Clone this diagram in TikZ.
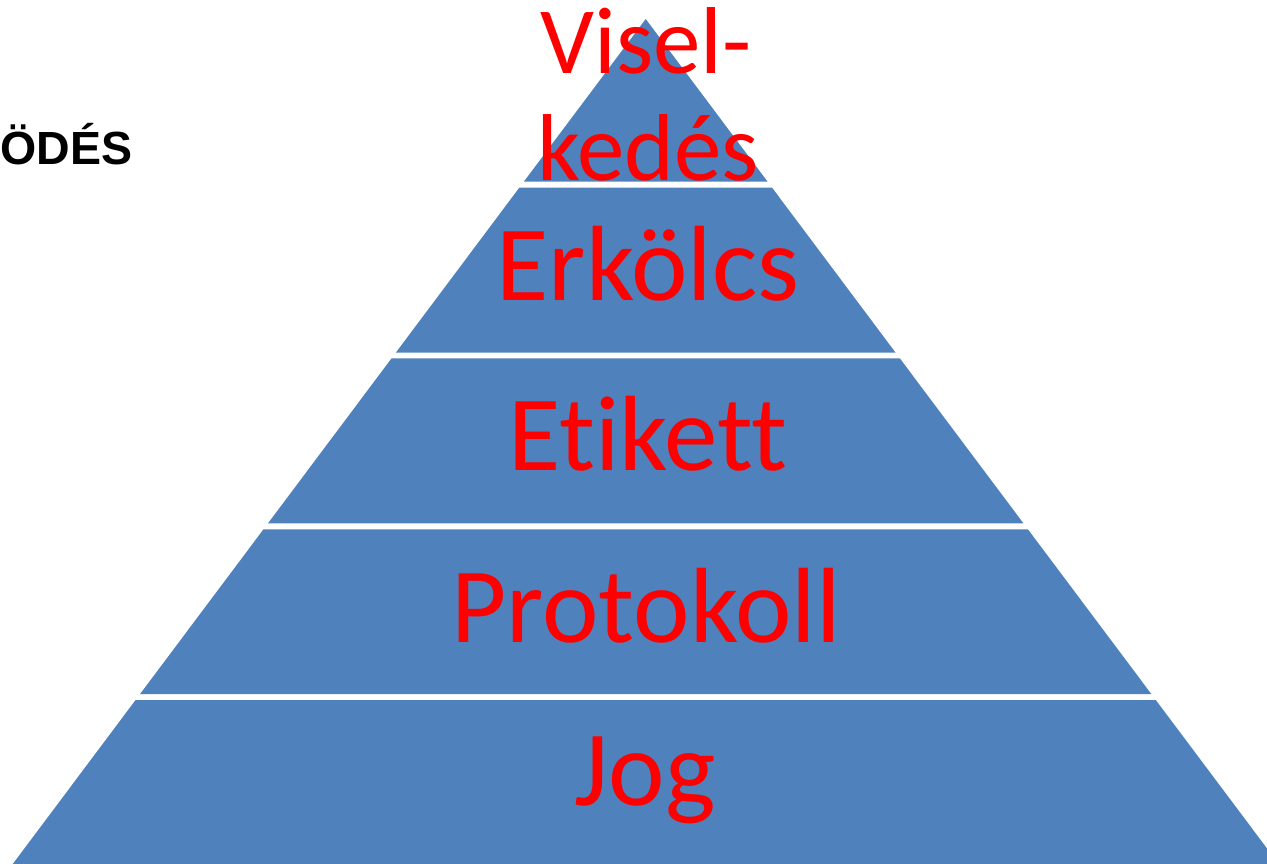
\documentclass[tikz,border=0pt]{standalone}
\usepackage{fontspec}
\setmainfont[Ligatures=NoCommon]{Carlito}
\newfontfamily\arialb{Liberation Sans}
\definecolor{pyrblue}{HTML}{4F81BD}
\definecolor{pyrred}{HTML}{FF0000}
\begin{document}
\begin{tikzpicture}[x=1pt,y=-1pt,
  layer/.style={fill=pyrblue},
  lbl/.style={anchor=base,inner sep=0pt,text=pyrred,font=\fontsize{107}{107}\selectfont},
  toplbl/.style={anchor=base,inner sep=0pt,text=pyrred,font=\fontsize{95}{107}\selectfont}]
\useasboundingbox (0,0) rectangle (1267,863);
\clip (0,0) rectangle (1267,863);
% layers
\fill[layer] (645.7,19) -- (767.6,181.7) -- (523.8,181.7) -- cycle;
\fill[layer] (519.3,187.7) -- (772.1,187.7) -- (895.6,352.7) -- (395.8,352.7) -- cycle;
\fill[layer] (391.6,358.3) -- (899.8,358.3) -- (1023.4,523.3) -- (268.0,523.3) -- cycle;
\fill[layer] (263.5,529.3) -- (1027.9,529.3) -- (1151.3,694) -- (140.1,694) -- cycle;
\fill[layer] (135.6,700) -- (1155.8,700) -- (1279.4,865) -- (12.0,865) -- cycle;
% labels
\node[toplbl] (visel) at (646,73) {Visel-};
\node[toplbl] (kedes) at (648,180) {kedés};
\node[lbl] (erkolcs) at (648,300.7) {Erkölcs};
\node[lbl] (etikett) at (648,470) {Etikett};
\node[lbl] (protokoll) at (646,642) {Protokoll};
\node[lbl] (jog) at (645,805) {Jog};
\node[anchor=base east,inner sep=0pt,font=\arialb\bfseries\fontsize{46.5}{46.5}\selectfont] (odes) at (132.5,164) {ÖDÉS};
\end{tikzpicture}
\end{document}
